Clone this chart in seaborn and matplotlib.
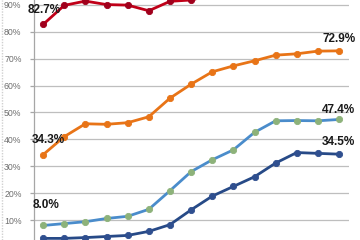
import matplotlib
matplotlib.use("Agg")
import matplotlib.pyplot as plt
import matplotlib.ticker as mticker
import seaborn as sns
import pandas as pd
from matplotlib.lines import Line2D

# categories (x positions; no labels visible in the crop)
periods = list(range(15))

red_vals = [82.7, 89.8, 91.4, 90.1, 89.9, 87.8, 91.3, 91.8, 93.5, 94.0, 94.5, 94.8, 95.0, 95.2, 95.3]
orange_vals = [34.3, 41.0, 45.8, 45.6, 46.2, 48.4, 55.3, 60.5, 65.1, 67.3, 69.2, 71.3, 71.8, 72.8, 72.9]
lightblue_vals = [8.0, 8.7, 9.4, 10.6, 11.4, 14.0, 20.9, 28.0, 32.4, 36.1, 42.6, 46.9, 47.0, 46.9, 47.4]
darkblue_vals = [3.2, 3.2, 3.5, 3.9, 4.3, 5.8, 8.3, 13.8, 18.9, 22.5, 26.1, 31.2, 35.1, 34.8, 34.5]

yticks = [10, 20, 30, 40, 50, 60, 70, 80, 90]

series = {
    "red": (red_vals, "#C00018", "#A0001C", "#A0001C"),
    "orange": (orange_vals, "#E87417", "#E87417", "#E87417"),
    "lightblue": (lightblue_vals, "#4A8CCB", "#8DB27A", "#8DB27A"),
    "darkblue": (darkblue_vals, "#274A87", "#2F4F8F", "#2F4F8F"),
}

sns.set_theme(style="white")
plt.rcParams["font.family"] = ["Liberation Sans", "DejaVu Sans"]
fig = plt.figure(figsize=(3.6, 2.4), dpi=100)
ax = fig.add_axes([34 / 360, 0, 315 / 360, 1])

for name, (vals, lc, mfc, mec) in series.items():
    df = pd.DataFrame({"period": periods, "value": vals})
    sns.lineplot(data=df, x="period", y="value", ax=ax, color=lc, linewidth=2.0,
                 marker="o", markersize=4.5, markerfacecolor=mfc, markeredgecolor=mec,
                 markeredgewidth=0.6, legend=False, zorder=3)

ax.set_xlim(-0.43, 14.47)
ax.set_ylim(2.6, 91.8)
ax.set_yticks(yticks)
ax.yaxis.set_major_formatter(mticker.FuncFormatter(lambda v, p: f"{v:.0f}%"))
ax.grid(axis="y", color="#BEBEBE", linewidth=0.9)
ax.grid(axis="x", visible=False)
ax.set_xticks([])
ax.set_xlabel("")
ax.set_ylabel("")
for s in ["top", "right", "bottom"]:
    ax.spines[s].set_visible(False)
ax.spines["left"].set_color("#A6A6A6")
ax.spines["left"].set_linewidth(0.9)
ax.tick_params(axis="y", which="major", length=3, width=0.9, color="#A6A6A6",
               labelsize=6.3, labelcolor="#6E6E6E", pad=6, left=True)

lab_kw = dict(fontsize=8.5, fontweight="bold", color="#1A1A1A", ha="center", va="center",
              zorder=5)
ax.annotate(f"{red_vals[0]:.1f}%", (periods[0], red_vals[0]), xytext=(1, 14),
            textcoords="offset pixels", **lab_kw)
ax.annotate(f"{orange_vals[0]:.1f}%", (periods[0], orange_vals[0]), xytext=(5, 15),
            textcoords="offset pixels", **lab_kw)
ax.annotate(f"{lightblue_vals[0]:.1f}%", (periods[0], lightblue_vals[0]), xytext=(3, 20),
            textcoords="offset pixels", **lab_kw)
ax.annotate(f"{orange_vals[-1]:.1f}%", (periods[-1], orange_vals[-1]), xytext=(0, 12),
            textcoords="offset pixels", **lab_kw)
ax.annotate(f"{lightblue_vals[-1]:.1f}%", (periods[-1], lightblue_vals[-1]), xytext=(-1, 9),
            textcoords="offset pixels", **lab_kw)
ax.annotate(f"{darkblue_vals[-1]:.1f}%", (periods[-1], darkblue_vals[-1]), xytext=(-1, 12),
            textcoords="offset pixels", **lab_kw)

fig.add_artist(Line2D([1.5 / 360, 1.5 / 360], [0, 1], color="#D0D0D0", linewidth=1.0,
                      linestyle=(0, (1, 1)), transform=fig.transFigure))

fig.savefig("out.png", dpi=100)
